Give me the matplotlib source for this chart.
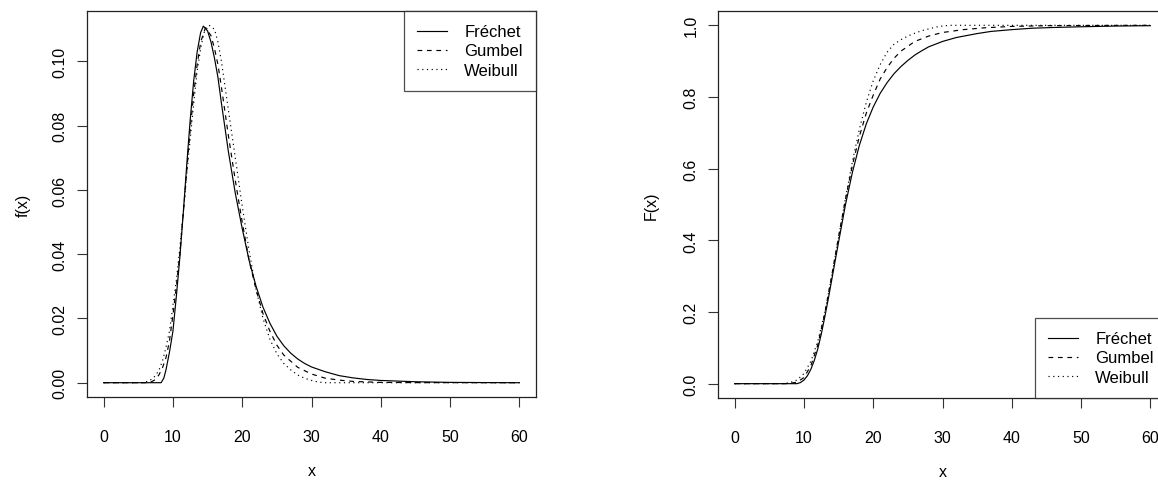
import matplotlib
matplotlib.use("Agg")
import matplotlib.pyplot as plt
from matplotlib.ticker import FormatStrFormatter

plt.rcParams["font.family"] = ["Liberation Sans", "DejaVu Sans"]

labels = ["Fréchet", "Gumbel", "Weibull"]

# density estimates f(x)
pdf_x_frechet = [0, 8.3, 8.7, 9, 9.5, 10, 10.5, 11, 11.5, 12, 12.5, 13, 13.5, 14, 14.4,
                 15, 15.5, 16, 16.5, 17, 18, 19, 20, 21, 22, 23, 24, 25, 26, 27, 28, 29,
                 30, 32, 34, 36, 38, 40, 45, 50, 55, 60]
pdf_frechet = [0, 0, 0.0015, 0.004, 0.0095, 0.016, 0.027, 0.039, 0.053, 0.068, 0.082,
               0.094, 0.103, 0.109, 0.111, 0.1095, 0.106, 0.101, 0.095, 0.087, 0.072,
               0.059, 0.048, 0.038, 0.030, 0.0235, 0.0185, 0.0145, 0.0115, 0.0092,
               0.0074, 0.006, 0.0049, 0.0034, 0.0022, 0.0015, 0.001, 0.0007, 0.0003,
               0.0001, 0.00004, 0]

pdf_x_gumbel = [0, 6.5, 7, 7.5, 8, 8.5, 9, 9.5, 10, 10.5, 11, 11.5, 12, 12.5, 13, 13.5,
                14, 14.7, 15.5, 16, 16.5, 17, 18, 19, 20, 21, 22, 23, 24, 25, 26, 28,
                30, 32, 34, 36, 40, 45, 60]
pdf_gumbel = [0, 0, 0.0004, 0.001, 0.0025, 0.0047, 0.0078, 0.013, 0.021, 0.030, 0.040,
              0.053, 0.066, 0.079, 0.090, 0.099, 0.106, 0.1105, 0.108, 0.104, 0.099,
              0.092, 0.077, 0.063, 0.050, 0.038, 0.029, 0.0215, 0.016, 0.0117, 0.0086,
              0.0048, 0.0027, 0.0014, 0.0008, 0.0004, 0.0001, 0.00003, 0]

pdf_x_weibull = [0, 5.5, 6.5, 7, 7.5, 8, 8.5, 9, 9.5, 10, 10.5, 11, 11.5, 12, 12.5, 13,
                 13.5, 14, 14.5, 15.2, 16, 16.5, 17, 18, 19, 20, 21, 22, 23, 24, 25, 26,
                 27, 28, 29, 30, 31, 32, 60]
pdf_weibull = [0, 0, 0.0005, 0.0012, 0.0022, 0.004, 0.0068, 0.011, 0.016, 0.024, 0.032,
               0.042, 0.053, 0.065, 0.076, 0.087, 0.097, 0.104, 0.109, 0.1113, 0.110,
               0.106, 0.100, 0.085, 0.070, 0.055, 0.041, 0.029, 0.020, 0.0135, 0.009,
               0.006, 0.004, 0.0024, 0.0014, 0.0007, 0.0002, 0, 0]

# distribution functions F(x)
cdf_x_frechet = [0, 9, 9.5, 10, 10.5, 11, 11.5, 12, 12.5, 13, 13.5, 14, 14.5, 15, 16, 17,
                 18, 19, 20, 21, 22, 23, 24, 25, 26, 27, 28, 30, 32, 35, 37, 40, 43, 46,
                 50, 55, 60]
cdf_frechet = [0, 0, 0.003, 0.01, 0.022, 0.04, 0.065, 0.097, 0.138, 0.185, 0.235, 0.288,
               0.342, 0.395, 0.5, 0.59, 0.665, 0.725, 0.772, 0.81, 0.84, 0.865, 0.885,
               0.902, 0.917, 0.929, 0.94, 0.955, 0.966, 0.977, 0.983, 0.988, 0.992,
               0.994, 0.996, 0.998, 0.999]

cdf_x_gumbel = [0, 7.5, 8, 9, 10, 11, 12, 13, 14, 15, 16, 17, 18, 19, 20, 21, 22, 23, 24,
                26, 28, 30, 33, 36, 40, 45, 50, 60]
cdf_gumbel = [0, 0, 0.001, 0.004, 0.017, 0.05, 0.108, 0.195, 0.3, 0.41, 0.515, 0.61,
              0.69, 0.755, 0.805, 0.85, 0.882, 0.908, 0.928, 0.955, 0.97, 0.98, 0.988,
              0.993, 0.997, 0.999, 0.9995, 1.0]

cdf_x_weibull = [0, 6.5, 7, 8, 9, 10, 11, 12, 13, 14, 15, 16, 17, 18, 19, 20, 21, 22, 23,
                 24, 25, 26, 27, 28, 29, 30, 31, 60]
cdf_weibull = [0, 0, 0.0005, 0.003, 0.01, 0.028, 0.062, 0.118, 0.198, 0.298, 0.408,
               0.518, 0.62, 0.71, 0.785, 0.845, 0.89, 0.925, 0.947, 0.96, 0.97, 0.978,
               0.985, 0.99, 0.995, 0.998, 1.0, 1.0]

styles = ["-", (0, (4, 4)), (0, (1, 3))]
lw = 0.85


def style_axes(ax, ylim, yticks, yfmt, ylabel, ylab_x):
    ax.set_xlim(-2.4, 62.4)
    ax.set_ylim(*ylim)
    ax.set_xticks(range(0, 61, 10))
    ax.set_yticks(yticks)
    ax.yaxis.set_major_formatter(FormatStrFormatter(yfmt))
    ax.tick_params(axis="both", direction="out", length=7, width=0.8,
                   labelsize=11.5, color="#333333")
    ax.tick_params(axis="x", pad=16)
    ax.tick_params(axis="y", pad=7, labelrotation=90)
    for lab in ax.get_yticklabels():
        lab.set_va("center")
    for s in ax.spines.values():
        s.set_linewidth(0.9)
        s.set_color("#222222")
    ax.set_xlabel("x", fontsize=11.5)
    ax.set_ylabel(ylabel, fontsize=11.5)
    ax.xaxis.set_label_coords(0.5, -0.171)
    ax.yaxis.set_label_coords(ylab_x, 0.5)


fig = plt.figure(figsize=(11.58, 4.81), dpi=100)
ax1 = fig.add_axes([87 / 1158, 83 / 481, 449 / 1158, 386 / 481])
ax2 = fig.add_axes([718 / 1158, 82 / 481, 449 / 1158, 387 / 481])

pdf_sets = [(pdf_x_frechet, pdf_frechet), (pdf_x_gumbel, pdf_gumbel),
            (pdf_x_weibull, pdf_weibull)]
for (xs, ys), ls, lab in zip(pdf_sets, styles, labels):
    ax1.plot(xs, ys, linestyle=ls, color="black", lw=lw, label=lab)

cdf_sets = [(cdf_x_frechet, cdf_frechet), (cdf_x_gumbel, cdf_gumbel),
            (cdf_x_weibull, cdf_weibull)]
for (xs, ys), ls, lab in zip(cdf_sets, styles, labels):
    ax2.plot(xs, ys, linestyle=ls, color="black", lw=lw, label=lab)

style_axes(ax1, (-0.00445, 0.1157), [0, 0.02, 0.04, 0.06, 0.08, 0.10], "%.2f", "f(x)", -0.125)
style_axes(ax2, (-0.04, 1.04), [0, 0.2, 0.4, 0.6, 0.8, 1.0], "%.1f", "F(x)", -0.132)

leg_kw = dict(fontsize=12, frameon=True, fancybox=False, borderaxespad=0,
              borderpad=0.8, handlelength=1.8, handletextpad=1.0, labelspacing=0.25)
l1 = ax1.legend(loc="upper right", **leg_kw)
l2 = ax2.legend(loc="lower right", **leg_kw)
for leg in (l1, l2):
    leg.get_frame().set_edgecolor("#222222")
    leg.get_frame().set_linewidth(0.9)

fig.savefig("out.png", dpi=100)
